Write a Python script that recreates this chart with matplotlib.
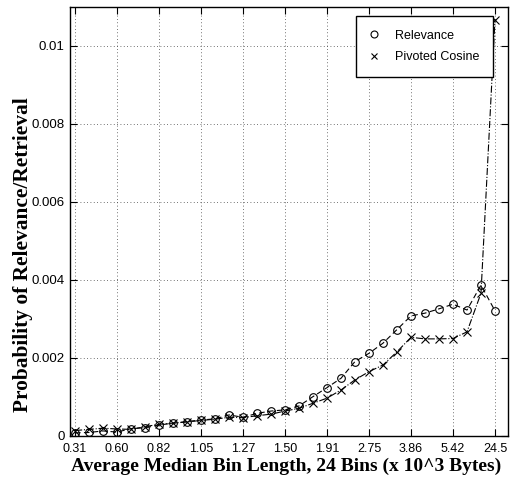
import matplotlib
matplotlib.use("Agg")
import matplotlib.pyplot as plt
import numpy as np

# bin index 0..30, labels every third bin
tick_labels = ["0.31", "0.60", "0.82", "1.05", "1.27", "1.50",
               "1.91", "2.75", "3.86", "5.42", "24.5"]

relevance = [0.00008, 0.00009, 0.00013, 0.00010, 0.00019, 0.00021,
             0.00028, 0.00033, 0.00037, 0.00041, 0.00044, 0.00054,
             0.00048, 0.00058, 0.00064, 0.00067, 0.00077, 0.00101,
             0.00124, 0.00148, 0.00191, 0.00212, 0.00238, 0.00273,
             0.00308, 0.00315, 0.00326, 0.00338, 0.00323, 0.00387,
             0.00321]

pivoted = [0.00014, 0.00017, 0.00020, 0.00018, 0.00017, 0.00024,
           0.00030, 0.00033, 0.00036, 0.00040, 0.00043, 0.00048,
           0.00047, 0.00052, 0.00056, 0.00064, 0.00071, 0.00084,
           0.00097, 0.00118, 0.00144, 0.00165, 0.00182, 0.00216,
           0.00253, 0.00249, 0.00249, 0.00250, 0.00267, 0.00366,
           0.01067]

x = np.arange(len(relevance))

fig = plt.figure(figsize=(5.13, 4.82), dpi=100)
ax = fig.add_axes([70 / 513, 1 - 436 / 482, 438 / 513, 429 / 482])

ax.plot(x, relevance, linestyle="--", color="black", linewidth=0.8,
        marker="o", markersize=5.5, markerfacecolor="none",
        markeredgewidth=0.8, label="Relevance", dashes=(5, 3))
ax.plot(x, pivoted, linestyle="-.", color="black", linewidth=0.8,
        marker="x", markersize=6, markeredgewidth=0.8,
        label="Pivoted Cosine")

ax.set_xlim(-0.36, 30.93)
ax.set_ylim(0, 0.011)
ax.set_xticks(x[::3])
ax.set_xticklabels(tick_labels, family="Liberation Sans", fontsize=9)
ax.set_yticks([0, 0.002, 0.004, 0.006, 0.008, 0.01])
ax.set_yticklabels(["0", "0.002", "0.004", "0.006", "0.008", "0.01"],
                   family="Liberation Sans", fontsize=9.5)
ax.tick_params(direction="in", top=True, right=True, length=5, width=0.8)
ax.tick_params(axis="x", pad=5)
ax.tick_params(axis="y", pad=4)
ax.grid(True, linestyle=(0, (1, 3)), color="#444444", linewidth=0.6)
for s in ax.spines.values():
    s.set_linewidth(1.0)

ax.set_xlabel("Average Median Bin Length, 24 Bins (x 10^3 Bytes)",
              family="Liberation Serif", fontweight="bold", fontsize=14)
ax.set_ylabel("Probability of Relevance/Retrieval",
              family="Liberation Serif", fontweight="bold", fontsize=15.4)
ax.xaxis.set_label_coords(0.494, -0.05)
ax.yaxis.set_label_coords(-0.085, 0.422)

leg = ax.legend(loc="upper right", bbox_to_anchor=(0.966, 0.979),
                prop={"family": "Liberation Sans", "size": 9},
                frameon=True, fancybox=False, edgecolor="black",
                handlelength=0.6, handletextpad=1.4, borderpad=1.1,
                labelspacing=0.75, borderaxespad=0, framealpha=1)
leg.get_frame().set_linewidth(1.0)
for h in leg.legend_handles:
    h.set_linestyle("none")
    h.set_markersize(5)

fig.savefig("out.png", dpi=100)
